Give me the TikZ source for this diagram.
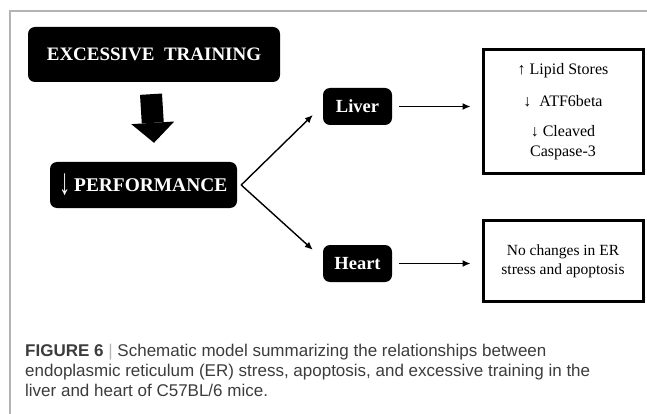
\documentclass[tikz,border=0pt]{standalone}
\usepackage{fontspec}
\setmainfont{Liberation Serif}
\newfontfamily\capfont{Liberation Sans}
\usepackage{xcolor}
\definecolor{framegray}{HTML}{B4B4B4}
\definecolor{captext}{HTML}{3C3C3C}
\usetikzlibrary {arrows.meta,
                 positioning}
\tikzset{
        base/.style={align=center, inner sep=0pt},
        dark/.style={base, fill=black, text=white, rounded corners=7pt,
                     font=\bfseries\fontsize{19}{21}\selectfont},
        organ/.style={dark, minimum width=69pt, minimum height=37pt,
                      font=\bfseries\fontsize{18.5}{20}\selectfont},
        result/.style={base, draw, line width=3pt, minimum width=160pt,
                       font=\fontsize{16}{19.5}\selectfont},
        myarrow/.style={-{Latex[length=8pt, width=7pt]}, line width=1.4pt},
        bigarrow/.style={line width=22pt,
                         -{Triangle[length=20pt, width=43pt, line width=0pt]}},
 }
\newcommand{\downarr}{\raisebox{-3pt}{\scalebox{1.15}[1.9]{↓}}}

\begin{document}
\begin{tikzpicture}[x=1pt, y=-1pt]
    \useasboundingbox (0,0) rectangle (647,414);
    \draw[framegray, line width=1.5pt] (10,414) -- (10,11) -- (647,11);

    \node[dark, minimum width=252pt, minimum height=55pt] (train) at (154,54.5) {EXCESSIVE\ \ TRAINING};
    \node[dark, minimum width=187pt, minimum height=46pt,
          font=\bfseries\fontsize{19.4}{21}\selectfont] (perf) at (143.5,185)
        {\downarr\,PERFORMANCE};
    \coordinate[right=4pt of perf.east] (split);

    \node[organ] (liver) at (357.5,106.5) {Liver};
    \node[organ] (heart) at (357.5,263.5) {Heart};

    \node[result, minimum height=124pt] (liverres) at (563,111.5)
        {↑ Lipid Stores\\[12.5pt]↓\ \ ATF6beta\\[10.5pt]↓ Cleaved\\Caspase-3};
    \node[result, minimum height=81pt, font=\fontsize{15.5}{19}\selectfont] (heartres) at (563,261)
        {No changes in ER\\stress and apoptosis};

    \draw[bigarrow] ([xshift=-3pt, yshift=-12pt]train.south) -- ([yshift=19pt]train.south |- perf.north);
    \draw[myarrow] (split) -- ([shift={(-10pt,-8.5pt)}]liver.west);
    \draw[myarrow] (split) -- ([shift={(-10pt,-5pt)}]heart.north west);
    \draw[myarrow] ([xshift=7pt]liver.east) -- ([xshift=-11pt]liverres.west |- liver);
    \draw[myarrow] ([xshift=7pt]heart.east) -- ([xshift=-11pt]heartres.west |- heart);

    \node[base, anchor=north west, align=left, text=captext,
          font=\capfont\fontsize{17}{20}\selectfont] (caption) at (25,344)
        {\textbf{FIGURE 6} {\color{framegray}|} Schematic model summarizing the relationships between\\
         endoplasmic reticulum (ER) stress, apoptosis, and excessive training in the\\
         liver and heart of C57BL/6 mice.};
\end{tikzpicture}
\end{document}
